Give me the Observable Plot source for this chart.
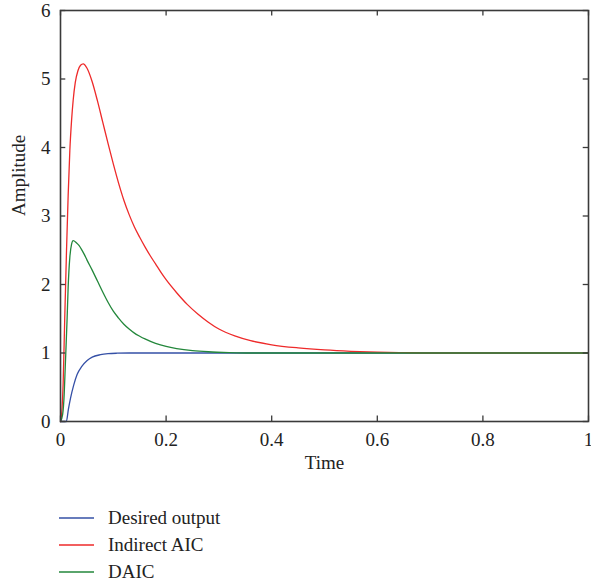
<!DOCTYPE html>
<html>
<head>
<meta charset="utf-8">
<script src="https://cdn.jsdelivr.net/npm/d3@7"></script>
<script src="https://cdn.jsdelivr.net/npm/@observablehq/plot@0.6"></script>
<style>
  body { margin: 0; background: #fff; font-family: "Liberation Serif", serif; }
  svg { display: block; }
  #legend { padding-top: 10px; padding-left: 59px; }
  .row { display: flex; align-items: center; height: 26.7px; font-size: 19px; color: #222; }
  .row svg { margin-right: 14px; }
</style>
</head>
<body>
<div id="chart"></div>
<div id="legend"></div>
<script>
// ---- data ----
const seriesNames = ["Desired output", "Indirect AIC", "DAIC"];
const seriesColors = ["#3550a6", "#ee2a2a", "#23873b"];

const desiredT = [0, 0.011, 0.015, 0.019, 0.025, 0.0316, 0.04, 0.0505, 0.06, 0.0758, 0.09, 0.107, 0.13, 0.2, 0.4, 0.6, 0.8, 1.0];
const desiredY = [0, 0, 0.18, 0.34, 0.53, 0.69, 0.80, 0.89, 0.94, 0.975, 0.99, 0.997, 1.0, 1.0, 1.0, 1.0, 1.0, 1.0];

const indirectT = [0, 0.003, 0.005, 0.008, 0.0114, 0.0145, 0.0177, 0.021, 0.024, 0.028, 0.033, 0.038, 0.043, 0.05, 0.06, 0.07, 0.08, 0.09, 0.10, 0.11, 0.12, 0.13, 0.14, 0.15, 0.16, 0.17, 0.18, 0.19, 0.20, 0.22, 0.24, 0.26, 0.28, 0.30, 0.33, 0.36, 0.40, 0.45, 0.50, 0.55, 0.60, 0.65, 0.70, 0.80, 0.90, 1.0];
const indirectY = [0, 0.2, 0.55, 1.5, 2.5, 3.3, 3.96, 4.4, 4.69, 4.95, 5.12, 5.2, 5.22, 5.16, 4.96, 4.68, 4.37, 4.06, 3.76, 3.48, 3.23, 3.02, 2.84, 2.69, 2.55, 2.42, 2.30, 2.18, 2.07, 1.88, 1.71, 1.57, 1.45, 1.35, 1.25, 1.18, 1.12, 1.075, 1.045, 1.025, 1.012, 1.005, 1.0, 1.0, 1.0, 1.0];

const daicT = [0, 0.004, 0.007, 0.009, 0.0126, 0.0145, 0.0177, 0.021, 0.024, 0.030, 0.035, 0.040, 0.045, 0.05, 0.06, 0.07, 0.08, 0.09, 0.10, 0.11, 0.12, 0.13, 0.14, 0.15, 0.16, 0.18, 0.20, 0.22, 0.25, 0.28, 0.32, 0.36, 0.5, 0.75, 1.0];
const daicY = [0, 0.1, 0.4, 0.8, 1.52, 1.96, 2.4, 2.59, 2.64, 2.61, 2.57, 2.51, 2.44, 2.36, 2.21, 2.05, 1.89, 1.74, 1.61, 1.51, 1.42, 1.35, 1.29, 1.245, 1.205, 1.14, 1.095, 1.065, 1.035, 1.018, 1.006, 1.0, 1.0, 1.0, 1.0];

const xTicks = [0, 0.2, 0.4, 0.6, 0.8, 1];
const yTicks = [0, 1, 2, 3, 4, 5, 6];
const xLabel = "Time";
const yLabel = "Amplitude";

// ---- build table ----
const seriesT = [desiredT, indirectT, daicT];
const seriesY = [desiredY, indirectY, daicY];
const rows = [];
seriesNames.forEach((name, i) => {
  seriesT[i].forEach((t, j) => rows.push({series: name, t, v: seriesY[i][j]}));
});

const axisColor = "#3a3a3a";
const fontSize = 19;

const chart = Plot.plot({
  width: 591,
  height: 495,
  marginLeft: 60,
  marginRight: 3,
  marginTop: 10,
  marginBottom: 74,
  style: {fontFamily: "Liberation Serif, serif", fontSize: fontSize + "px", color: "#222", background: "#fff"},
  x: {domain: [0, 1], ticks: xTicks},
  y: {domain: [0, 6], ticks: yTicks},
  color: {domain: seriesNames, range: seriesColors},
  marks: [
    Plot.line(rows, {x: "t", y: "v", z: "series", stroke: "series", strokeWidth: 1.3, curve: "monotone-x"}),
    // inward ticks on all four sides
    Plot.ruleX(xTicks, {x: d => d, y1: 0, y2: 0.08, stroke: axisColor, strokeWidth: 1.3}),
    Plot.ruleX(xTicks, {x: d => d, y1: 6, y2: 5.92, stroke: axisColor, strokeWidth: 1.3}),
    Plot.ruleY(yTicks, {y: d => d, x1: 0, x2: 0.01, stroke: axisColor, strokeWidth: 1.3}),
    Plot.ruleY(yTicks, {y: d => d, x1: 1, x2: 0.99, stroke: axisColor, strokeWidth: 1.3}),
    Plot.frame({stroke: axisColor, strokeWidth: 1.6}),
    Plot.axisX({ticks: xTicks, tickSize: 0, tickPadding: 11, label: null, tickFormat: d => String(d), fill: "#222"}),
    Plot.axisY({ticks: yTicks, tickSize: 0, tickPadding: 10, label: null, tickFormat: d => String(d), fill: "#222"}),
    Plot.text([xLabel], {text: d => d, frameAnchor: "bottom", dy: 47, fontSize: fontSize, fill: "#222"}),
    Plot.text([yLabel], {text: d => d, frameAnchor: "left", dx: -42, rotate: -90, fontSize: fontSize, fill: "#222"})
  ]
});
document.getElementById("chart").appendChild(chart);

const legend = document.getElementById("legend");
const ns = "http://www.w3.org/2000/svg";
seriesNames.forEach((name, i) => {
  const row = document.createElement("div");
  row.className = "row";
  const sw = document.createElementNS(ns, "svg");
  sw.setAttribute("width", 35);
  sw.setAttribute("height", 6);
  const ln = document.createElementNS(ns, "line");
  ln.setAttribute("x1", 0); ln.setAttribute("x2", 35);
  ln.setAttribute("y1", 3); ln.setAttribute("y2", 3);
  ln.setAttribute("stroke", seriesColors[i]);
  ln.setAttribute("stroke-width", 1.4);
  sw.appendChild(ln);
  const label = document.createElement("span");
  label.textContent = name;
  row.appendChild(sw);
  row.appendChild(label);
  legend.appendChild(row);
});
</script>
</body>
</html>
